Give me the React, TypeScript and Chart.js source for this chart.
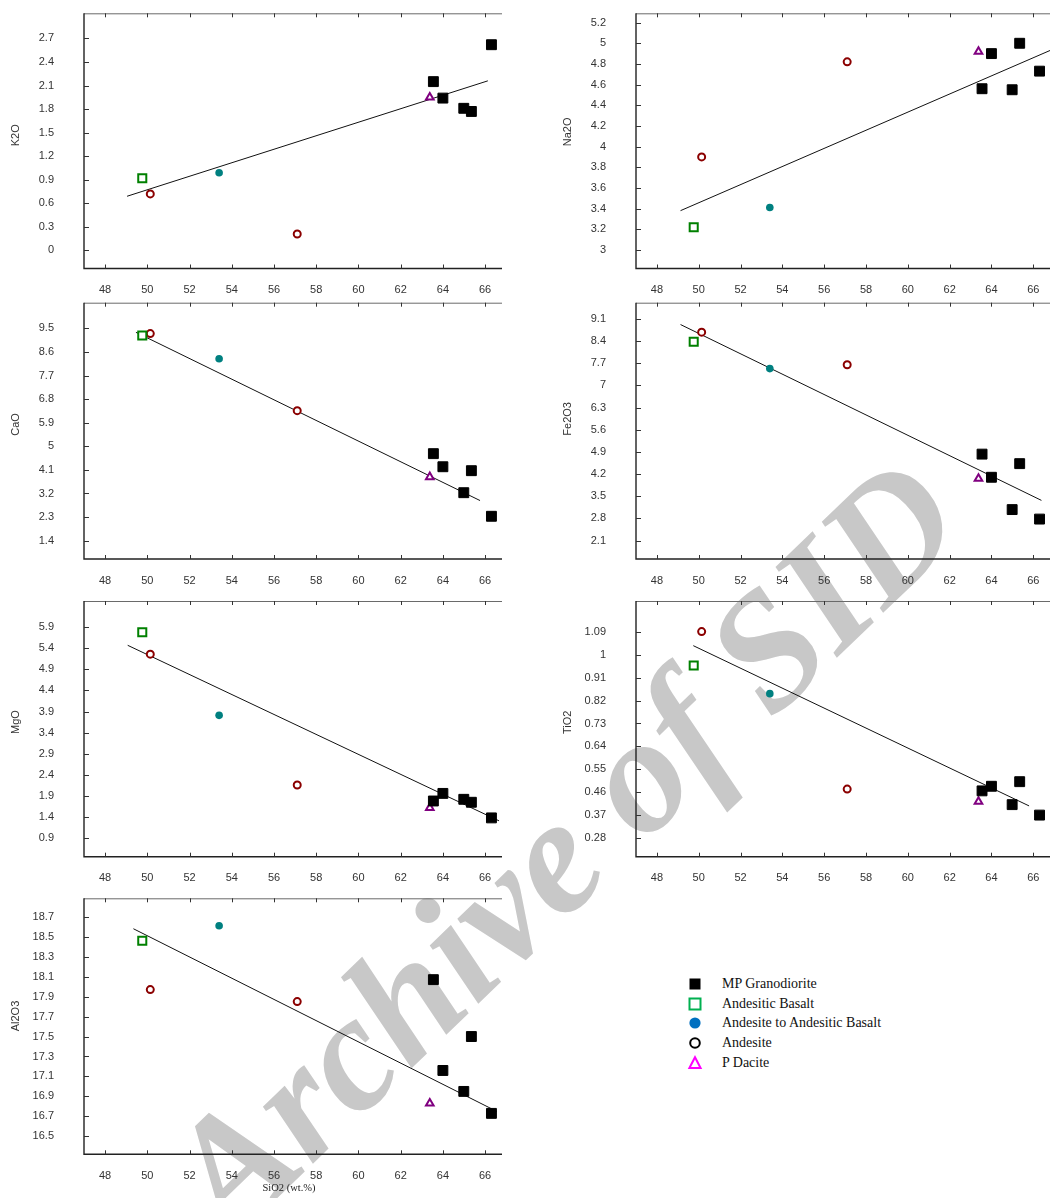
import React, { useEffect, useRef } from 'react';
import { Chart, registerables } from 'chart.js';

Chart.register(...registerables);

// ---------------- data ----------------
const SERIES_NAMES = ['MP Granodiorite', 'Andesitic Basalt', 'Andesite to Andesitic Basalt', 'Andesite', 'P Dacite'];
// sample -> rock type (index into SERIES_NAMES)
const ROCK_TYPE = [0, 0, 0, 0, 0, 1, 2, 3, 3, 4];
const SIO2 = [63.55, 64.0, 64.99, 65.35, 66.3, 49.76, 53.4, 50.14, 57.1, 63.38];

const K2O = [2.15, 1.94, 1.81, 1.77, 2.62, 0.92, 0.99, 0.72, 0.21, 1.95];
const NA2O = [4.56, 4.9, 4.55, 5.0, 4.73, 3.22, 3.41, 3.9, 4.82, 4.92];
const CAO = [4.72, 4.22, 3.23, 4.07, 2.33, 9.23, 8.34, 9.3, 6.36, 3.83];
const FE2O3 = [4.83, 4.1, 3.08, 4.53, 2.78, 8.38, 7.53, 8.68, 7.65, 4.06];
const MGO = [1.78, 1.96, 1.82, 1.75, 1.38, 5.78, 3.81, 5.26, 2.16, 1.62];
const TIO2 = [0.466, 0.484, 0.412, 0.502, 0.371, 0.957, 0.847, 1.09, 0.473, 0.424];
const AL2O3 = [18.07, 17.16, 16.95, 17.5, 16.73, 18.46, 18.61, 17.97, 17.85, 16.83];

// trend lines (end points)
const K2O_FIT_X = [49.04, 66.13];
const K2O_FIT_Y = [0.69, 2.16];
const NA2O_FIT_X = [49.13, 66.8];
const NA2O_FIT_Y = [3.38, 4.93];
const CAO_FIT_X = [49.46, 65.76];
const CAO_FIT_Y = [9.35, 2.93];
const FE2O3_FIT_X = [49.13, 66.39];
const FE2O3_FIT_Y = [8.92, 3.37];
const MGO_FIT_X = [49.07, 66.66];
const MGO_FIT_Y = [5.47, 1.31];
const TIO2_FIT_X = [49.74, 65.8];
const TIO2_FIT_Y = [1.035, 0.407];
const AL2O3_FIT_X = [49.34, 66.55];
const AL2O3_FIT_Y = [18.58, 16.75];

// tick labels
const X_TICKS = [48, 50, 52, 54, 56, 58, 60, 62, 64, 66];
const K2O_TICKS = [0, 0.3, 0.6, 0.9, 1.2, 1.5, 1.8, 2.1, 2.4, 2.7];
const NA2O_TICKS = [3, 3.2, 3.4, 3.6, 3.8, 4, 4.2, 4.4, 4.6, 4.8, 5, 5.2];
const CAO_TICKS = [1.4, 2.3, 3.2, 4.1, 5, 5.9, 6.8, 7.7, 8.6, 9.5];
const FE2O3_TICKS = [2.1, 2.8, 3.5, 4.2, 4.9, 5.6, 6.3, 7, 7.7, 8.4, 9.1];
const MGO_TICKS = [0.9, 1.4, 1.9, 2.4, 2.9, 3.4, 3.9, 4.4, 4.9, 5.4, 5.9];
const TIO2_TICKS = [0.28, 0.37, 0.46, 0.55, 0.64, 0.73, 0.82, 0.91, 1, 1.09];
const AL2O3_TICKS = [16.5, 16.7, 16.9, 17.1, 17.3, 17.5, 17.7, 17.9, 18.1, 18.3, 18.5, 18.7];

// ---------------- styles ----------------
const MARKERS = [
  { pointStyle: 'rect', radius: 7, bg: '#000000', border: '#000000', bw: 1 },
  { pointStyle: 'rect', radius: 5.7, bg: '#ffffff', border: '#008000', bw: 2 },
  { pointStyle: 'circle', radius: 3.8, bg: '#008080', border: '#008080', bw: 0 },
  { pointStyle: 'circle', radius: 3.5, bg: '#ffffff', border: '#8b0000', bw: 2 },
  { pointStyle: 'triangle', radius: 4.4, bg: '#ffffff', border: '#800080', bw: 2 },
];

const X_MIN = 47;
const X_MAX = 66.8;
const Y_AXIS_W = 84;
const X_AXIS_H = 28;
const COL_CANVAS_LEFT = [0, 552];
const COL_CANVAS_W = [510, 506];
const COL_PAD_RIGHT = [5, 1];
const ROW_TOP = [13.3, 302.7, 601, 898.3];
const ROW_BOTTOM = [268.5, 559, 856.7, 1154.3];

const PANELS = [
  { title: 'K2O', values: K2O, ticks: K2O_TICKS, min: -0.23, max: 3.02, fitX: K2O_FIT_X, fitY: K2O_FIT_Y, col: 0, row: 0 },
  { title: 'Na2O', values: NA2O, ticks: NA2O_TICKS, min: 2.82, max: 5.29, fitX: NA2O_FIT_X, fitY: NA2O_FIT_Y, col: 1, row: 0 },
  { title: 'CaO', values: CAO, ticks: CAO_TICKS, min: 0.7, max: 10.48, fitX: CAO_FIT_X, fitY: CAO_FIT_Y, col: 0, row: 1 },
  { title: 'Fe2O3', values: FE2O3, ticks: FE2O3_TICKS, min: 1.52, max: 9.61, fitX: FE2O3_FIT_X, fitY: FE2O3_FIT_Y, col: 1, row: 1 },
  { title: 'MgO', values: MGO, ticks: MGO_TICKS, min: 0.46, max: 6.52, fitX: MGO_FIT_X, fitY: MGO_FIT_Y, col: 0, row: 2 },
  { title: 'TiO2', values: TIO2, ticks: TIO2_TICKS, min: 0.208, max: 1.21, fitX: TIO2_FIT_X, fitY: TIO2_FIT_Y, col: 1, row: 2 },
  { title: 'Al2O3', values: AL2O3, ticks: AL2O3_TICKS, min: 16.32, max: 18.885, fitX: AL2O3_FIT_X, fitY: AL2O3_FIT_Y, col: 0, row: 3 },
];

const framePlugin = {
  id: 'frame',
  beforeDatasetsDraw(chart: any, _args: any, opts: any) {
    const { ctx, chartArea } = chart;
    const { left, right, top, bottom } = chartArea;
    const xs = chart.scales.x;
    const ys = chart.scales.y;
    ctx.save();
    // top border
    ctx.strokeStyle = '#6a6a6a';
    ctx.lineWidth = 1;
    ctx.beginPath();
    ctx.moveTo(left, top + 0.5);
    ctx.lineTo(right, top + 0.5);
    ctx.stroke();
    // left + bottom axes
    ctx.strokeStyle = '#222222';
    ctx.lineWidth = 1.4;
    ctx.beginPath();
    ctx.moveTo(left, top);
    ctx.lineTo(left, bottom);
    ctx.lineTo(right, bottom);
    ctx.stroke();
    // tick marks
    ctx.lineWidth = 1;
    ctx.strokeStyle = '#333333';
    ctx.beginPath();
    xs.ticks.forEach((t: any) => {
      const px = Math.round(xs.getPixelForValue(t.value)) + 0.5;
      ctx.moveTo(px, bottom);
      ctx.lineTo(px, bottom - 4);
      ctx.moveTo(px, top);
      ctx.lineTo(px, top + 4);
    });
    ys.ticks.forEach((t: any) => {
      const py = Math.round(ys.getPixelForValue(t.value)) + 0.5;
      ctx.moveTo(left, py);
      ctx.lineTo(left + 5, py);
    });
    ctx.stroke();
    // y title
    ctx.translate(left - 68, top + 133);
    ctx.rotate(-Math.PI / 2);
    ctx.font = '11px "Liberation Sans", Arial, sans-serif';
    ctx.fillStyle = '#333333';
    ctx.textAlign = 'left';
    ctx.textBaseline = 'middle';
    ctx.fillText(opts.title, 0, 0);
    ctx.restore();
  },
};

function Panel({ cfg }: { cfg: any }) {
  const ref = useRef<HTMLCanvasElement>(null);
  const T = ROW_TOP[cfg.row];
  const B = ROW_BOTTOM[cfg.row];
  const canvasTop = Math.round(T) - 10;
  const padTop = T - canvasTop;
  const canvasH = Math.ceil(B - canvasTop + X_AXIS_H + 1);
  const padBottom = canvasH - (B - canvasTop) - X_AXIS_H;
  const canvasLeft = COL_CANVAS_LEFT[cfg.col];
  const canvasW = COL_CANVAS_W[cfg.col];

  useEffect(() => {
    if (!ref.current) return;
    const datasets: any[] = SERIES_NAMES.map((name, gi) => {
      const m = MARKERS[gi];
      const pts: any[] = [];
      SIO2.forEach((x, i) => {
        if (ROCK_TYPE[i] === gi) pts.push({ x, y: cfg.values[i] });
      });
      return {
        label: name,
        data: pts,
        pointStyle: m.pointStyle,
        pointRadius: m.radius,
        pointBackgroundColor: m.bg,
        pointBorderColor: m.border,
        pointBorderWidth: m.bw,
        showLine: false,
      };
    });
    datasets.push({
      label: 'trend',
      data: cfg.fitX.map((x: number, i: number) => ({ x, y: cfg.fitY[i] })),
      showLine: true,
      borderColor: '#111111',
      borderWidth: 1,
      pointRadius: 0,
      fill: false,
    });
    const tickFont = { family: '"Liberation Sans", Arial, sans-serif', size: 11 };
    const chart = new Chart(ref.current, {
      type: 'scatter',
      data: { datasets },
      options: {
        responsive: false,
        animation: false,
        devicePixelRatio: 1,
        layout: { padding: { left: 0, right: COL_PAD_RIGHT[cfg.col], top: padTop, bottom: padBottom } },
        plugins: {
          legend: { display: false },
          tooltip: { enabled: false },
          frame: { title: cfg.title },
        } as any,
        scales: {
          x: {
            type: 'linear',
            position: 'bottom',
            min: X_MIN,
            max: X_MAX,
            grid: { display: false },
            border: { display: false },
            ticks: {
              padding: 7,
              font: tickFont,
              color: '#333333',
              autoSkip: false,
              maxRotation: 0,
              callback: (v: any) => String(v),
            },
            afterBuildTicks: (s: any) => {
              s.ticks = X_TICKS.map((v) => ({ value: v }));
            },
            afterFit: (s: any) => {
              s.height = X_AXIS_H;
              s.paddingLeft = 0;
              s.paddingRight = 0;
            },
          },
          y: {
            type: 'linear',
            position: 'left',
            min: cfg.min,
            max: cfg.max,
            grid: { display: false },
            border: { display: false },
            ticks: {
              padding: 22,
              font: tickFont,
              color: '#333333',
              autoSkip: false,
              callback: (v: any) => String(v),
            },
            afterBuildTicks: (s: any) => {
              s.ticks = cfg.ticks.map((v: number) => ({ value: v }));
            },
            afterFit: (s: any) => {
              s.width = Y_AXIS_W;
              s.paddingTop = 0;
              s.paddingBottom = 0;
            },
          },
        },
      } as any,
      plugins: [framePlugin],
    });
    return () => chart.destroy();
  }, []);

  return (
    <canvas
      ref={ref}
      width={canvasW}
      height={canvasH}
      style={{ position: 'absolute', left: canvasLeft, top: canvasTop, width: canvasW, height: canvasH }}
    />
  );
}

const LEGEND_ICON_X = 695;
const LEGEND_TEXT_X = 722;
const LEGEND_Y = [984, 1004, 1023, 1042.5, 1062.5];

function LegendIcon({ index }: { index: number }) {
  const s = 16;
  if (index === 0) return (<svg width={s} height={s}><rect x={2.5} y={2.5} width={11} height={11} fill="#000" /></svg>);
  if (index === 1) return (<svg width={s} height={s}><rect x={2.5} y={2.5} width={11} height={11} fill="none" stroke="#00b050" strokeWidth={2} /></svg>);
  if (index === 2) return (<svg width={s} height={s}><circle cx={8} cy={8} r={5.6} fill="#0070c0" /></svg>);
  if (index === 3) return (<svg width={s} height={s}><circle cx={8} cy={8} r={4.8} fill="none" stroke="#000" strokeWidth={2} /></svg>);
  return (<svg width={s} height={s}><polygon points="8,2.2 13.6,13 2.4,13" fill="none" stroke="#ff00ff" strokeWidth={2} /></svg>);
}

export default function App() {
  return (
    <div style={{ position: 'absolute', left: 0, top: 0, width: 1058, height: 1198, overflow: 'hidden', background: '#ffffff' }}>
      <div
        style={{
          position: 'absolute',
          left: 562,
          top: 846,
          transform: 'translate(-50%, -50%) rotate(-44deg)',
          whiteSpace: 'nowrap',
          fontFamily: '"Liberation Serif", "Times New Roman", serif',
          fontStyle: 'italic',
          fontWeight: 'bold',
          fontSize: 165,
          lineHeight: 1,
          color: '#c8c8c8',
        }}
      >
        Archive of SID
      </div>
      {PANELS.map((p) => (
        <Panel key={p.title} cfg={p} />
      ))}
      <div
        style={{
          position: 'absolute',
          left: 289,
          top: 1187,
          transform: 'translate(-50%, -50%)',
          whiteSpace: 'nowrap',
          fontFamily: '"Liberation Serif", "Times New Roman", serif',
          fontSize: 10.5,
          color: '#222',
        }}
      >
        SiO2 (wt.%)
      </div>
      {SERIES_NAMES.map((name, i) => (
        <React.Fragment key={name}>
          <div style={{ position: 'absolute', left: LEGEND_ICON_X - 8, top: LEGEND_Y[i] - 8, width: 16, height: 16, lineHeight: 0 }}>
            <LegendIcon index={i} />
          </div>
          <div
            style={{
              position: 'absolute',
              left: LEGEND_TEXT_X,
              top: LEGEND_Y[i],
              transform: 'translateY(-50%)',
              whiteSpace: 'nowrap',
              fontFamily: '"Liberation Serif", "Times New Roman", serif',
              fontSize: 14,
              color: '#111',
              lineHeight: 1,
            }}
          >
            {name}
          </div>
        </React.Fragment>
      ))}
    </div>
  );
}
